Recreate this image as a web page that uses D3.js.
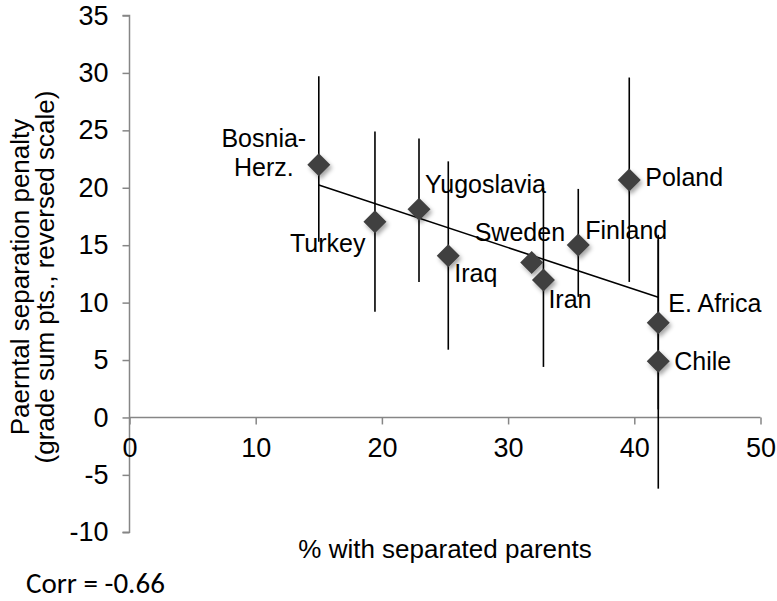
<!DOCTYPE html>
<html>
<head>
<meta charset="utf-8">
<script src="https://cdn.jsdelivr.net/npm/d3@7"></script>
<style>
  body { margin: 0; background: #fff; }
  svg { display: block; }
</style>
</head>
<body>
<div id="chart"></div>
<script>
// values
var countries = ["Bosnia-Herz.", "Turkey", "Yugoslavia", "Iraq", "Sweden", "Iran", "Finland", "Poland", "E. Africa", "Chile"];
var pctSeparated = [15.0, 19.45, 22.94, 25.26, 31.87, 32.8, 35.56, 39.6, 41.9, 41.9];
var penalty = [22.0, 17.05, 18.13, 14.09, 13.5, 11.97, 15.02, 20.68, 8.25, 4.9];
var errLow = [15.3, 9.2, 11.8, 5.9, 13.5, 4.4, 10.5, 11.8, 0.7, -6.2];
var errHigh = [29.7, 24.9, 24.3, 22.3, 13.5, 20.0, 19.9, 29.6, 15.9, 15.5];
var xTicks = [0, 10, 20, 30, 40, 50];
var yTicks = [35, 30, 25, 20, 15, 10, 5, 0, -5, -10];
var corrText = "Corr = -0.66";

// label placement relative to the marker (px), same order as countries
var labelOffset = [[-55, -18], [-85, 30], [6, -16], [6, 26], [-57, -21], [5, 28], [7, -6], [16, 6], [10, -11], [16, 9]];

var W = 777, H = 601;
var fontFam = "'Liberation Sans', Arial, Helvetica, sans-serif";

var svg = d3.select("#chart").append("svg")
    .attr("width", W)
    .attr("height", H);

var defs = svg.append("defs");
var shadow = defs.append("filter").attr("id", "shadow")
    .attr("x", "-50%").attr("y", "-50%").attr("width", "200%").attr("height", "200%");
shadow.append("feDropShadow")
    .attr("dx", 2).attr("dy", 3)
    .attr("stdDeviation", 2)
    .attr("flood-color", "#000")
    .attr("flood-opacity", 0.35);

let x = d3.scaleLinear().domain([0, 50]).range([129.5, 760.5]);
let y = d3.scaleLinear().domain([-10, 35]).range([532.3, 15.5]);

var axisColor = "#868686";
var plain = function(d){ return String(d); };   // hyphen minus like the original

// y axis (left)
var yAxis = svg.append("g")
    .attr("transform", "translate(" + x(0) + ",0)")
    .call(d3.axisLeft(y).tickValues(yTicks).tickFormat(plain).tickSize(7).tickPadding(14));
// x axis crossing at zero
var xAxis = svg.append("g")
    .attr("transform", "translate(0," + y(0) + ")")
    .call(d3.axisBottom(x).tickValues(xTicks).tickFormat(plain).tickSize(7).tickPadding(13));

[yAxis, xAxis].forEach(function(ax){
    ax.select(".domain").attr("stroke", axisColor).attr("stroke-width", 1.5);
    ax.selectAll(".tick line").attr("stroke", axisColor).attr("stroke-width", 1.5);
    ax.selectAll(".tick text")
        .attr("fill", "#000")
        .style("font-family", fontFam)
        .style("font-size", "27px");
});
// outer tick at the ends of the domain
yAxis.select(".domain").attr("d", "M-7," + y(35) + "H0V" + y(-10) + "H-7");
xAxis.select(".domain").attr("d", "M" + x(0) + ",0H" + x(50));

// regression line
var n = pctSeparated.length;
var mx = d3.mean(pctSeparated), my = d3.mean(penalty);
var sxy = 0, sxx = 0;
for (var i = 0; i < n; i++) {
    sxy += (pctSeparated[i] - mx) * (penalty[i] - my);
    sxx += (pctSeparated[i] - mx) * (pctSeparated[i] - mx);
}
var slope = sxy / sxx;
var icept = my - slope * mx;
var x0 = d3.min(pctSeparated), x1 = d3.max(pctSeparated);

var idx = d3.range(n);

// error bars
svg.append("g").selectAll("line")
    .data(idx)
    .join("line")
    .attr("x1", function(d){ return x(pctSeparated[d]); })
    .attr("x2", function(d){ return x(pctSeparated[d]); })
    .attr("y1", function(d){ return y(errHigh[d]); })
    .attr("y2", function(d){ return y(errLow[d]); })
    .attr("stroke", "#000")
    .attr("stroke-width", 1.6);

svg.append("line")
    .attr("x1", x(x0)).attr("y1", y(icept + slope * x0))
    .attr("x2", x(x1)).attr("y2", y(icept + slope * x1))
    .attr("stroke", "#000")
    .attr("stroke-width", 1.6);

// diamond markers
var r = 11.5;
svg.append("g").selectAll("path")
    .data(idx)
    .join("path")
    .attr("d", function(d){
        var cx = x(pctSeparated[d]), cy = y(penalty[d]);
        return "M" + cx + "," + (cy - r) + "L" + (cx + r) + "," + cy +
               "L" + cx + "," + (cy + r) + "L" + (cx - r) + "," + cy + "Z";
    })
    .attr("fill", "#404040")
    .attr("filter", "url(#shadow)");

// data labels
var labels = svg.append("g")
    .style("font-family", fontFam)
    .style("font-size", "25px")
    .attr("fill", "#000");
idx.forEach(function(d){
    var cx = x(pctSeparated[d]), cy = y(penalty[d]);
    var off = labelOffset[d];
    var t = labels.append("text");
    if (countries[d] == "Bosnia-Herz.") {
        t.attr("text-anchor", "middle");
        t.append("tspan").attr("x", cx + off[0]).attr("y", cy + off[1]).text("Bosnia-");
        t.append("tspan").attr("x", cx + off[0]).attr("y", cy + off[1] + 29.5).text("Herz.");
    } else {
        t.attr("x", cx + off[0]).attr("y", cy + off[1]).text(countries[d]);
    }
});

// axis titles
var ytitle = svg.append("text")
    .attr("transform", "translate(29,277) rotate(-90)")
    .attr("text-anchor", "middle")
    .style("font-family", fontFam)
    .style("font-size", "26px");
ytitle.append("tspan").attr("x", 0).attr("y", 0).text("Paerntal separation penalty");
ytitle.append("tspan").attr("x", 0).attr("y", 25).text("(grade sum pts., reversed scale)");

svg.append("text")
    .attr("x", 445).attr("y", 558)
    .attr("text-anchor", "middle")
    .style("font-family", fontFam)
    .style("font-size", "26px")
    .text("% with separated parents");

svg.append("text")
    .attr("x", 26).attr("y", 593)
    .style("font-family", "Carlito, Calibri, Lato, 'Open Sans', sans-serif")
    .style("font-size", "29px")
    .text(corrText);
</script>
</body>
</html>
